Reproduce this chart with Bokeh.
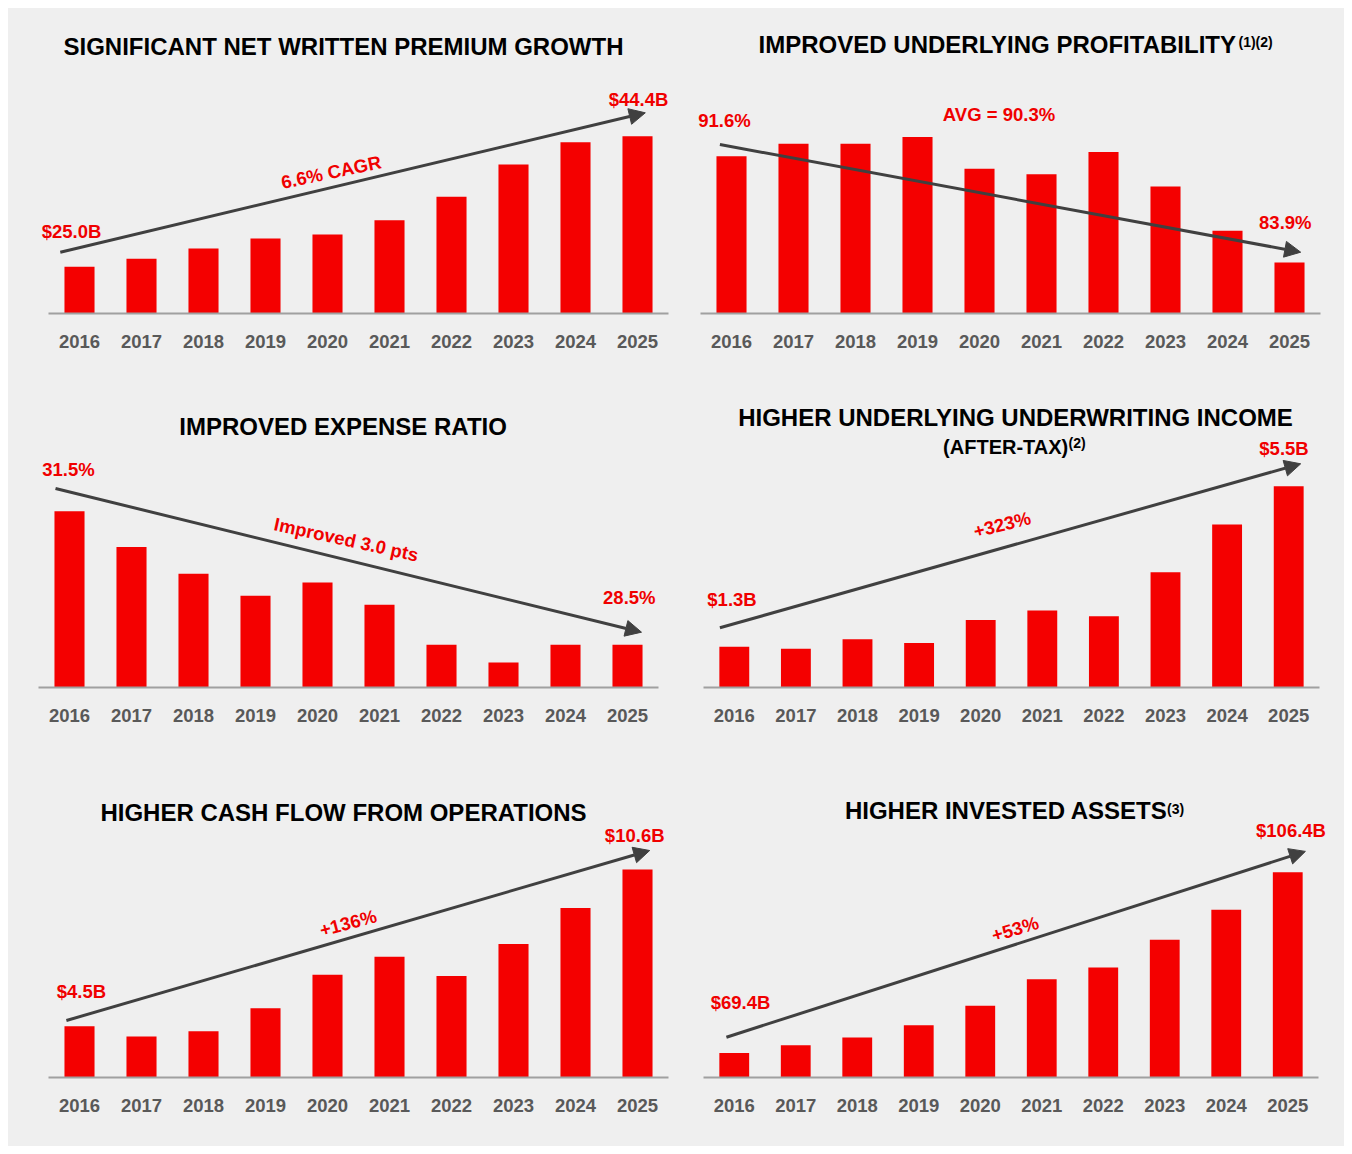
import math
from bokeh.plotting import figure
from bokeh.models import Range1d, Label, Arrow, NormalHead, FixedTicker
from bokeh.layouts import column, row
from bokeh.embed import file_html
from bokeh.resources import INLINE

# ---------------- data ----------------
years = ["2016", "2017", "2018", "2019", "2020", "2021", "2022", "2023", "2024", "2025"]
net_written_premium = [25.0, 26.2, 27.7, 29.2, 29.8, 31.9, 35.4, 40.2, 43.5, 44.4]        # $B
underlying_combined_ratio = [91.6, 92.5, 92.5, 93.0, 90.7, 90.3, 91.9, 89.4, 86.2, 83.9]  # %
expense_ratio = [31.5, 30.7, 30.1, 29.6, 29.9, 29.4, 28.5, 28.1, 28.5, 28.5]             # %
underwriting_income = [1.3, 1.25, 1.5, 1.4, 2.0, 2.25, 2.1, 3.25, 4.5, 5.5]              # $B
cash_flow_operations = [4.5, 4.1, 4.3, 5.2, 6.5, 7.2, 6.45, 7.7, 9.1, 10.6]              # $B
invested_assets = [69.4, 71.0, 72.6, 75.1, 79.1, 84.5, 86.9, 92.6, 98.7, 106.4]         # $B

titles = ["SIGNIFICANT NET WRITTEN PREMIUM GROWTH",
          "IMPROVED UNDERLYING PROFITABILITY",
          "IMPROVED EXPENSE RATIO",
          "HIGHER UNDERLYING UNDERWRITING INCOME",
          "HIGHER CASH FLOW FROM OPERATIONS",
          "HIGHER INVESTED ASSETS"]
title_notes = ["", "(1)(2)", "", "", "", "(3)"]
subtitle = "(AFTER-TAX)"
subtitle_note = "(2)"
first_labels = ["$25.0B", "91.6%", "31.5%", "$1.3B", "$4.5B", "$69.4B"]
last_labels = ["$44.4B", "83.9%", "28.5%", "$5.5B", "$10.6B", "$106.4B"]
trend_labels = ["6.6% CAGR", "AVG = 90.3%", "Improved 3.0 pts", "+323%", "+136%", "+53%"]

# ---------------- style ----------------
FONT = "Liberation Sans"
BG = "#efefef"
BAR = "#f40000"
RED = "#f00000"
ARROWC = "#404040"
TICKC = "#595959"
AXISC = "#a0a0a0"

# layout (page pixels): figure origin/size, category span left/right, baseline, axis start value, value per pixel
cfgs = [
    dict(fx=8, fy=8, w=668, h=379, L=48, R=668, Y0=313, a=18.06, b=0.14855),
    dict(fx=676, fy=8, w=668, h=379, L=700, R=1320, Y0=313, a=80.21, b=0.07242),
    dict(fx=8, fy=387, w=668, h=379, L=38, R=658, Y0=689, a=27.54, b=0.02233),
    dict(fx=676, fy=387, w=668, h=379, L=703, R=1319, Y0=687, a=0.237, b=0.02614),
    dict(fx=8, fy=766, w=668, h=380, L=48, R=668, Y0=1077, a=2.501, b=0.03894),
    dict(fx=676, fy=766, w=668, h=380, L=703, R=1318, Y0=1080, a=64.40, b=0.20256),
]
BELOW = 3  # frame extends this many px below the baseline so the baseline line is not clipped

# annotation positions (page pixels)
title_pos = [(343, 46.0), (996.8, 43.6), (342.6, 426.0), (1015, 416.6), (343, 811.8), (1005.8, 810.2)]
note_pos = [None, (1238, 41.0), None, None, None, (1166.5, 808.5)]
first_pos = [(71, 230.7), (724, 120), (68, 470), (731.5, 598.7), (80.9, 991.2), (740, 1004.5)]
last_pos = [(638, 99.3), (1284.8, 221.7), (628.8, 598.3), (1283.5, 448), (634.2, 834.7), (1290.5, 830.8)]
trend_pos = [(330.6, 171.7), (998.5, 113.7), (345.8, 540), (1001.6, 524), (347.6, 922.5), (1014.7, 930)]
trend_rot = [True, False, True, True, True, True]
arrows = [((59.8, 251.7), (644.8, 112.3)),
          ((719.4, 144), (1300.2, 251.7)),
          ((55, 488.7), (641, 633.3)),
          ((719.4, 627.3), (1300.2, 463.3)),
          ((65.9, 1020), (649.2, 850)),
          ((725.9, 1039.3), (1304.9, 851.7))]
subtitle_pos = (1005.2, 446.2)
subnote_pos = (1068, 442.5)

series = [net_written_premium, underlying_combined_ratio, expense_ratio,
          underwriting_income, cash_flow_operations, invested_assets]

positions = list(range(len(years)))
year_overrides = {i: y for i, y in zip(positions, years)}


def catw(c):
    return (c["R"] - c["L"]) / len(years)


def to_data(c, px, py):
    return (px - c["L"]) / catw(c) - 0.5, c["a"] + (c["Y0"] - py) * c["b"]


def add_text(p, c, txt, pos, size="18px", color=RED, angle=0.0, align="center"):
    x, y = to_data(c, *pos)
    p.add_layout(Label(x=x, y=y, text=txt, text_font=FONT, text_font_style="bold",
                       text_font_size=size, text_color=color, text_align=align,
                       text_baseline="middle", angle=angle, angle_units="rad"))


figs = []
for i, c in enumerate(cfgs):
    vals = series[i]
    cw = catw(c)
    x_start = -0.5 - (c["L"] - c["fx"]) / cw
    x_end = len(years) - 0.5 + (c["fx"] + c["w"] - c["R"]) / cw
    y_start = c["a"] - BELOW * c["b"]
    y_end = c["a"] + (c["Y0"] - c["fy"]) * c["b"]
    p = figure(x_range=Range1d(x_start, x_end), y_range=Range1d(y_start, y_end),
               width=c["w"], height=c["h"], output_backend="svg", toolbar_location=None,
               y_axis_location=None,
               min_border_left=0, min_border_right=0,
               min_border_top=0, min_border_bottom=c["fy"] + c["h"] - c["Y0"] - BELOW,
               background_fill_color=None, border_fill_color=BG, outline_line_color=None)
    p.vbar(x=positions, top=vals, bottom=c["a"], width=0.485, fill_color=BAR, line_color=None)
    # baseline across the category span
    p.segment(x0=[-0.5], x1=[len(years) - 0.5], y0=[c["a"]], y1=[c["a"]],
              line_color=AXISC, line_width=2)
    p.xgrid.grid_line_color = None
    p.ygrid.grid_line_color = None
    ax = p.xaxis[0]
    ax.ticker = FixedTicker(ticks=positions)
    ax.major_label_overrides = year_overrides
    ax.axis_line_color = None
    ax.major_tick_line_color = None
    ax.minor_tick_line_color = None
    ax.major_tick_in = 0
    ax.major_tick_out = 0
    ax.major_label_standoff = 21 - BELOW
    ax.major_label_text_font = FONT
    ax.major_label_text_font_style = "bold"
    ax.major_label_text_font_size = "18.5px"
    ax.major_label_text_color = TICKC

    # arrow
    (sx, sy), (ex, ey) = arrows[i]
    x0, y0 = to_data(c, sx, sy)
    x1, y1 = to_data(c, ex, ey)
    p.add_layout(Arrow(x_start=x0, y_start=y0, x_end=x1, y_end=y1,
                       line_color=ARROWC, line_width=3,
                       end=NormalHead(size=16, fill_color=ARROWC, line_color=ARROWC, line_width=1)))
    ang = math.atan2(sy - ey, ex - sx)

    # titles
    add_text(p, c, titles[i], title_pos[i], size="24px", color="#000000")
    if title_notes[i]:
        add_text(p, c, title_notes[i], note_pos[i], size="14px", color="#000000", align="left")
    if i == 3:
        add_text(p, c, subtitle, subtitle_pos, size="20px", color="#000000")
        add_text(p, c, subtitle_note, subnote_pos, size="14px", color="#000000", align="left")

    add_text(p, c, first_labels[i], first_pos[i], size="18.5px")
    add_text(p, c, last_labels[i], last_pos[i], size="18.5px")
    add_text(p, c, trend_labels[i], trend_pos[i], size="18.5px",
             angle=(ang - math.copysign(math.radians(1.5), ang)) if trend_rot[i] else 0.0)
    figs.append(p)

layout = column(row(figs[0], figs[1], styles={"background-color": BG}),
                row(figs[2], figs[3], styles={"background-color": BG}),
                row(figs[4], figs[5], styles={"background-color": BG}),
                styles={"background-color": BG}, margin=(8, 0, 0, 8))
open("out.html", "w").write(file_html(layout, INLINE))
